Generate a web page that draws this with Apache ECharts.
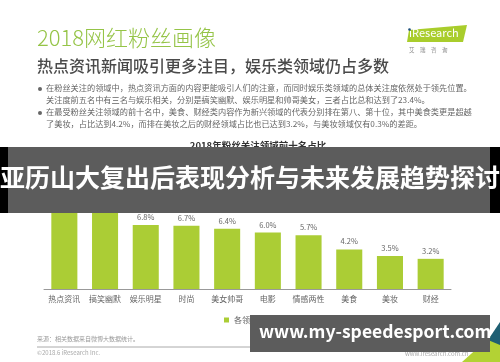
<!DOCTYPE html>
<html><head><meta charset="utf-8">
<script src="https://cdn.jsdelivr.net/npm/echarts@6/dist/echarts.min.js"></script>
<style>html,body{margin:0;padding:0;background:#fff}#c{width:500px;height:362px}</style>
</head><body><div id="c"></div>
<script>
const categories = ['热点资讯','搞笑幽默','娱乐明星','时尚','美女帅哥','电影','情感两性','美食','美妆','财经'];
const shares = [12.6, 10.2, 6.8, 6.7, 6.4, 6.0, 5.7, 4.2, 3.5, 3.2];
const seriesName = '各领域占比（%）';
const chartTitle = '2018年粉丝关注领域前十名占比';
const pageTitle = '2018网红粉丝画像';
const subTitle = '热点资讯新闻吸引更多注目，娱乐类领域仍占多数';
const bullets = [
  '在粉丝关注的领域中，热点资讯方面的内容更能吸引人们的注意，而同时娱乐类领域的总体关注度依然处于领先位置。',
  '关注度前五名中有三名与娱乐相关，分别是搞笑幽默、娱乐明星和帅哥美女，三者占比总和达到了23.4%。',
  '在最受粉丝关注领域的前十名中，美食、财经类内容作为新兴领域的代表分别排在第八、第十位，其中美食类更是超越',
  '了美妆，占比达到4.2%，而排在美妆之后的财经领域占比也已达到3.2%，与美妆领域仅有0.3%的差距。'
];
const bannerText = '亚历山大复出后表现分析与未来发展趋势探讨';
const watermark = 'www.my-speedesport.com';
const sourceText = '来源：相关数据来自微博大数据统计。';
const copyText = '©2018.6 iResearch Inc.';
const siteText = 'www.iresearch.com.cn';

const F = '"Noto Sans CJK SC", "Noto Sans", sans-serif';
const chart = echarts.init(document.getElementById('c'), null, {renderer:'canvas'});
const bulletY = [89, 101, 113, 125];
const g = [];
g.push({type:'text', left:37, top:27, z:10, style:{text:pageTitle, font:'300 22px '+F, fill:'#95c447'}});
g.push({type:'text', left:37, top:58, z:10, style:{text:subTitle, font:'500 16px '+F, fill:'#4a4a4a'}});
bullets.forEach((t,i)=>{
  g.push({type:'text', left:46, top:bulletY[i]-5, z:10, style:{text:t, font:'8.2px '+F, fill:'#666'}});
});
g.push({type:'circle', z:10, shape:{cx:40, cy:89, r:2}, style:{fill:'#666'}});
g.push({type:'circle', z:10, shape:{cx:40, cy:113, r:2}, style:{fill:'#666'}});
// logo
g.push({type:'polygon', z:10, shape:{points:[[409,30],[467,25],[463,42],[407,42]]}, style:{fill:'#a9cd2c'}});
g.push({type:'text', left:409, top:27, z:11, style:{text:'iResearch', font:'11px '+F, fill:'#fff'}});
g.push({type:'circle', z:11, shape:{cx:409.5, cy:29.5, r:1.3}, style:{fill:'#1d4f7c'}});
g.push({type:'text', left:409, top:47, z:11, style:{text:'艾　瑞　咨　询', font:'5.5px '+F, fill:'#888'}});
// footer
g.push({type:'text', left:37, top:336, z:10, style:{text:sourceText, font:'6px '+F, fill:'#999'}});
g.push({type:'line', z:10, shape:{x1:37, y1:347, x2:460, y2:347}, style:{stroke:'#aaa', lineWidth:1}});
g.push({type:'text', left:37, top:350, z:10, style:{text:copyText, font:'6px '+F, fill:'#aaa'}});
g.push({type:'text', left:405, top:351, z:10, style:{text:siteText, font:'6px '+F, fill:'#aaa'}});
// corner decoration
g.push({type:'polygon', z:10, shape:{points:[[462,362],[500,328],[500,362]]}, style:{fill:'#b3d234'}});
g.push({type:'polygon', z:10, shape:{points:[[488,340],[500,322],[500,345]]}, style:{fill:'#1f5f73'}});
// top banner
g.push({type:'rect', z:100, shape:{x:0, y:147, width:500, height:66}, style:{fill:'#000'}});
g.push({type:'rect', z:101, shape:{x:8, y:147, width:482, height:66}, style:{fill:'#5c5c5c'}});
g.push({type:'text', left:0, top:165, z:102, style:{text:bannerText, font:'bold 25px '+F, fill:'#fff'}});
// bottom banner
g.push({type:'rect', z:100, shape:{x:250, y:315, width:240, height:37}, style:{fill:'#5c5c5c'}});
g.push({type:'text', left:259, top:323, z:102, style:{text:watermark, font:'bold 17.5px '+F, fill:'#fff'}});

chart.setOption({
  animation:false,
  backgroundColor:'#fff',
  title:{text:chartTitle, left:253, top:136, textAlign:'center',
    textStyle:{fontFamily:F, fontSize:9.5, fontWeight:'bold', color:'#333'}},
  legend:{left:219, top:311, itemWidth:5, itemHeight:5, icon:'rect',
    textStyle:{fontFamily:F, fontSize:8, color:'#666'}, data:[seriesName]},
  grid:{left:44, right:49, top:157, bottom:73},
  xAxis:{type:'category', data:categories,
    axisLine:{lineStyle:{color:'#999', width:1}}, axisTick:{show:false},
    axisLabel:{interval:0, fontFamily:F, fontSize:8, color:'#666', margin:6}},
  yAxis:{type:'value', min:0, max:14, show:false},
  series:[{name:seriesName, type:'bar', data:shares, barWidth:'64%',
    itemStyle:{color:'#abcd35'},
    label:{show:true, position:'top', distance:4, formatter:p=>p.value.toFixed(1)+'%',
      fontFamily:F, fontSize:7.5, color:'#666'}}],
  graphic:{elements:g}
});
</script></body></html>
